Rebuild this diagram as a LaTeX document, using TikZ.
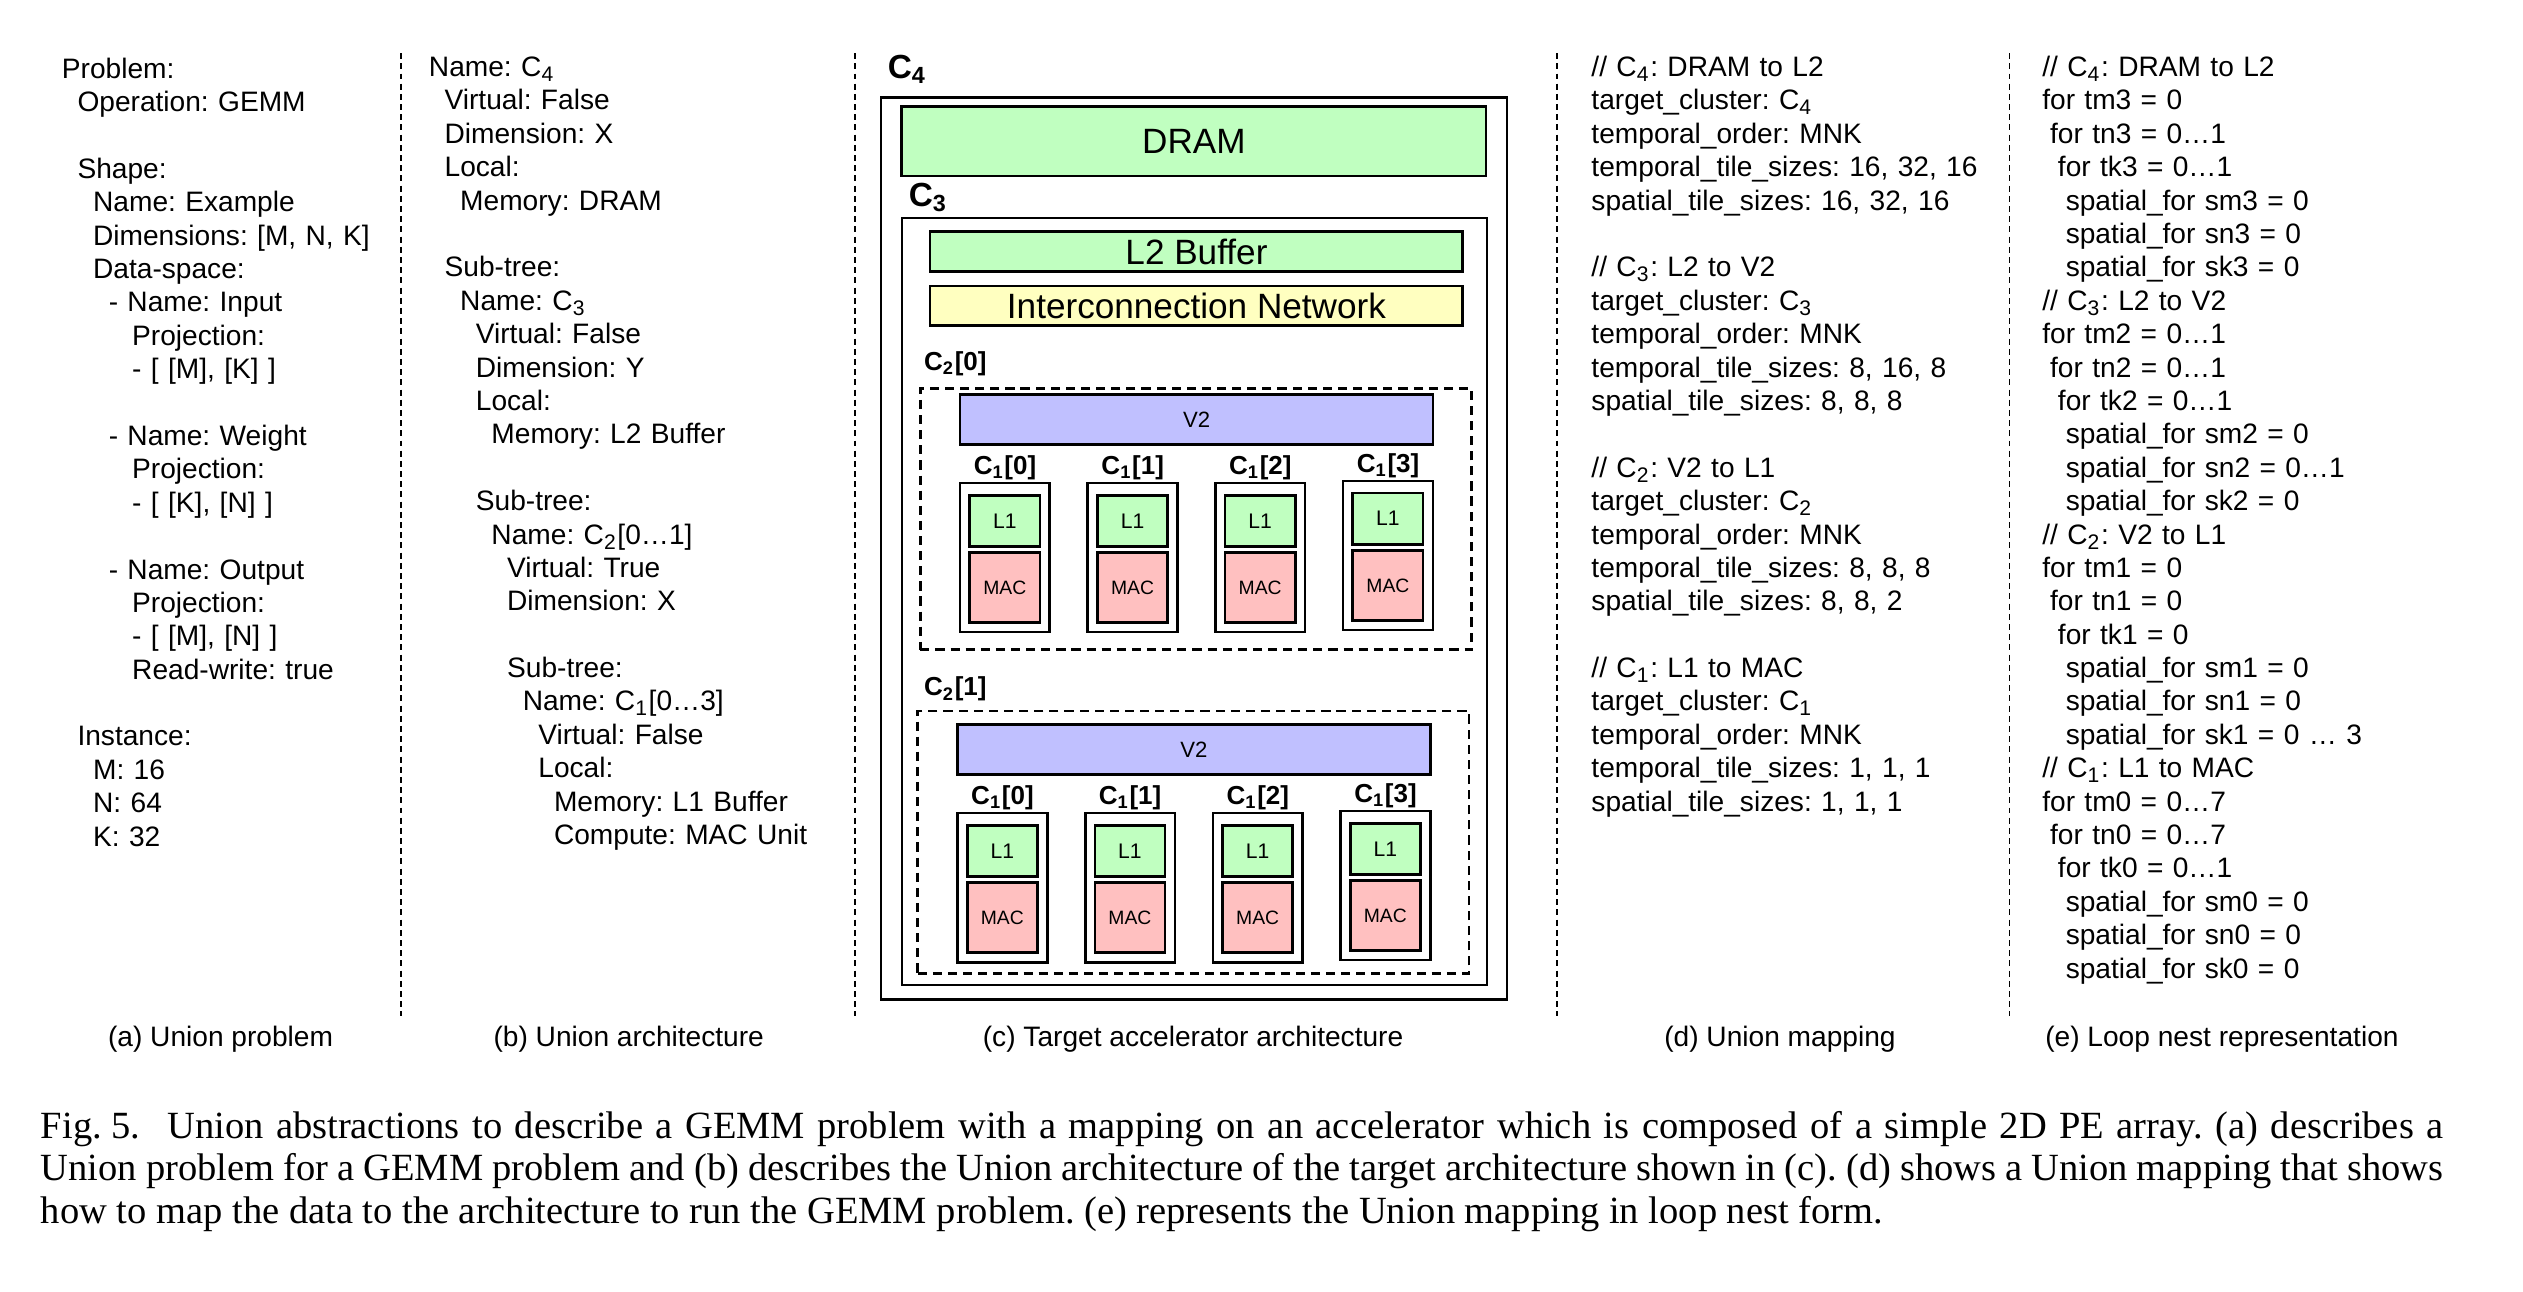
\documentclass[tikz,border=0pt]{standalone}
\usepackage{fontspec}
\setmainfont{Liberation Serif}
\setsansfont{Liberation Sans}
\usetikzlibrary{fit}
\frenchspacing

\definecolor{memgreen}{RGB}{192,255,192}
\definecolor{netyellow}{RGB}{255,255,192}
\definecolor{vecblue}{RGB}{192,192,255}
\definecolor{macred}{RGB}{255,192,192}

\newcommand{\cn}[1]{C\textsubscript{#1}}
\newcommand{\ind}[1]{\hspace*{#1\fontdimen2\font}}

\begin{document}
\begin{tikzpicture}[
    x=0.0161cm, y=-0.0161cm,
    col/.style={anchor=base west, text width=4.2cm, align=left, inner sep=0pt, font=\sffamily\fontsize{8}{9.5}\selectfont},
    subcap/.style={anchor=base, inner sep=0pt, font=\sffamily\fontsize{8}{9.5}\selectfont},
    sepline/.style={line width=0.45pt, dash pattern=on 1.7pt off 1.2pt},
    box/.style={draw, line width=0.75pt, inner sep=0pt},
    group/.style={draw, line width=0.75pt, inner sep=0pt, dash pattern=on 2.6pt off 1.7pt},
    mem/.style={box, fill=memgreen, label={[font=\sffamily\fontsize{10}{12}\selectfont]center:#1}},
    net/.style={box, fill=netyellow, label={[font=\sffamily\fontsize{10}{12}\selectfont]center:#1}},
    vec/.style={box, fill=vecblue, label={[font=\sffamily\fontsize{6.3}{7}\selectfont]center:#1}},
    l1/.style={box, fill=memgreen, label={[font=\sffamily\fontsize{6}{7}\selectfont]center:#1}},
    mac/.style={box, fill=macred, label={[font=\sffamily\fontsize{5.5}{6}\selectfont]center:#1}},
    biglab/.style={anchor=west, inner sep=0pt, font=\sffamily\bfseries\fontsize{9.5}{11}\selectfont},
    smalllab/.style={inner sep=0pt, font=\sffamily\bfseries\fontsize{7.4}{9}\selectfont}
]
\useasboundingbox (0,0) rectangle (1567,802);

% (a) problem
\node[col] (prob) at (38,48.5) {Problem:\\
\ind{2}Operation: GEMM\\[9.5pt]
\ind{2}Shape:\\
\ind{4}Name: Example\\
\ind{4}Dimensions: [M, N, K]\\
\ind{4}Data-space:\\
\ind{6}- Name: Input\\
\ind{9}Projection:\\
\ind{9}- [ [M], [K] ]\\[9.5pt]
\ind{6}- Name: Weight\\
\ind{9}Projection:\\
\ind{9}- [ [K], [N] ]\\[9.5pt]
\ind{6}- Name: Output\\
\ind{9}Projection:\\
\ind{9}- [ [M], [N] ]\\
\ind{9}Read-write: true\\[9.5pt]
\ind{2}Instance:\\
\ind{4}M: 16\\
\ind{4}N: 64\\
\ind{4}K: 32};

% (b) architecture
\node[col] (arch) at (266,47.5) {Name: \cn{4}\\
\ind{2}Virtual: False\\
\ind{2}Dimension: X\\
\ind{2}Local:\\
\ind{4}Memory: DRAM\\[9.5pt]
\ind{2}Sub-tree:\\
\ind{4}Name: \cn{3}\\
\ind{6}Virtual: False\\
\ind{6}Dimension: Y\\
\ind{6}Local:\\
\ind{8}Memory: L2 Buffer\\[9.5pt]
\ind{6}Sub-tree:\\
\ind{8}Name: \cn{2}[0…1]\\
\ind{10}Virtual: True\\
\ind{10}Dimension: X\\[9.5pt]
\ind{10}Sub-tree:\\
\ind{12}Name: \cn{1}[0…3]\\
\ind{14}Virtual: False\\
\ind{14}Local:\\
\ind{16}Memory: L1 Buffer\\
\ind{16}Compute: MAC Unit};

% (c) target accelerator
\node[biglab] (c4lab) at (551,43) {\cn{4}};
\node[box, fit={(547.2,60.4) (936,620.7)}] (c4) {};
\node[mem=DRAM, fit={(560,66) (923,109.4)}] (dram) {};
\node[biglab] (c3lab) at (564,122.5) {\cn{3}};
\node[box, fit={(560.2,135.5) (923.6,611.8)}] (c3) {};
\node[mem=L2 Buffer, fit={(577.7,143.9) (908.5,168.7)}] (l2) {};
\node[net=Interconnection Network, fit={(577.7,177.6) (908.5,202.2)}] (noc) {};

\foreach \g/\ox/\top/\bot/\ly/\dy in {0/0/241.2/403.5/225.8/0, 1/-1.6/441.6/604.6/428/205}{
  \node[smalllab, anchor=west] (c2lab-\g) at (573.5,\ly) {\cn{2}[\g]};
  \node[group, fit={(571.6+\ox,\top) (914+\ox,\bot)}] (c2-\g) {};
  \node[vec=V2, fit={(596.3+\ox,245+\dy) (890+\ox,276+\dy)}] (v2-\g) {};
  \foreach \j/\jy in {0/0, 1/0, 2/0, 3/-1.3}{
    \node[smalllab] (c1lab-\g-\j) at (624.2+79.3*\j+\ox,290.4+\dy+\jy) {\cn{1}[\j]};
    \node[box, fit={(596.3+79.3*\j+\ox,300+\dy+\jy) (652+79.3*\j+\ox,392.6+\dy+\jy)}] (c1-\g-\j) {};
    \node[l1=L1, fit={(602.3+79.3*\j+\ox,307.6+\dy+\jy) (645.9+79.3*\j+\ox,339.3+\dy+\jy)}] (l1-\g-\j) {};
    \node[mac=MAC, fit={(602.3+79.3*\j+\ox,343.1+\dy+\jy) (645.9+79.3*\j+\ox,386.7+\dy+\jy)}] (mac-\g-\j) {};
  }
}

% (d) mapping
\node[col] (map) at (988,47.5) {// \cn{4}: DRAM to L2\\
target\_cluster: \cn{4}\\
temporal\_order: MNK\\
temporal\_tile\_sizes: 16, 32, 16\\
spatial\_tile\_sizes: 16, 32, 16\\[9.5pt]
// \cn{3}: L2 to V2\\
target\_cluster: \cn{3}\\
temporal\_order: MNK\\
temporal\_tile\_sizes: 8, 16, 8\\
spatial\_tile\_sizes: 8, 8, 8\\[9.5pt]
// \cn{2}: V2 to L1\\
target\_cluster: \cn{2}\\
temporal\_order: MNK\\
temporal\_tile\_sizes: 8, 8, 8\\
spatial\_tile\_sizes: 8, 8, 2\\[9.5pt]
// \cn{1}: L1 to MAC\\
target\_cluster: \cn{1}\\
temporal\_order: MNK\\
temporal\_tile\_sizes: 1, 1, 1\\
spatial\_tile\_sizes: 1, 1, 1};

% (e) loop nest
\node[col] (loop) at (1268,47.5) {// \cn{4}: DRAM to L2\\
for tm3 = 0\\
\ind{1}for tn3 = 0…1\\
\ind{2}for tk3 = 0…1\\
\ind{3}spatial\_for sm3 = 0\\
\ind{3}spatial\_for sn3 = 0\\
\ind{3}spatial\_for sk3 = 0\\
// \cn{3}: L2 to V2\\
for tm2 = 0…1\\
\ind{1}for tn2 = 0…1\\
\ind{2}for tk2 = 0…1\\
\ind{3}spatial\_for sm2 = 0\\
\ind{3}spatial\_for sn2 = 0…1\\
\ind{3}spatial\_for sk2 = 0\\
// \cn{2}: V2 to L1\\
for tm1 = 0\\
\ind{1}for tn1 = 0\\
\ind{2}for tk1 = 0\\
\ind{3}spatial\_for sm1 = 0\\
\ind{3}spatial\_for sn1 = 0\\
\ind{3}spatial\_for sk1 = 0 … 3\\
// \cn{1}: L1 to MAC\\
for tm0 = 0…7\\
\ind{1}for tn0 = 0…7\\
\ind{2}for tk0 = 0…1\\
\ind{3}spatial\_for sm0 = 0\\
\ind{3}spatial\_for sn0 = 0\\
\ind{3}spatial\_for sk0 = 0};

% separators
\foreach \x in {249,531,967,1248}
  \draw[sepline] (\x,33) -- (\x,631);

% sub-captions
\node[subcap] (capa) at (137,650) {(a) Union problem};
\node[subcap] (capb) at (390.5,650) {(b) Union architecture};
\node[subcap] (capc) at (741,650) {(c) Target accelerator architecture};
\node[subcap] (capd) at (1105.5,650) {(d) Union mapping};
\node[subcap] (cape) at (1380,650) {(e) Loop nest representation};

% caption
\node[anchor=base west, inner sep=0pt, text width=24.02cm, align=justify, font=\rmfamily\fontsize{10.95}{12.1}\selectfont] (fig) at (25,707) {\mbox{Fig.~5.}\hspace{0.7em}Union abstractions to describe a GEMM problem with a mapping on an accelerator which is composed of a simple 2D PE array. (a) describes a\linebreak Union problem for a GEMM problem and (b) describes the Union architecture of the target architecture shown in (c). (d) shows a Union mapping that shows\linebreak how to map the data to the architecture to run the GEMM problem. (e) represents the Union mapping in loop nest form.};

\end{tikzpicture}
\end{document}
